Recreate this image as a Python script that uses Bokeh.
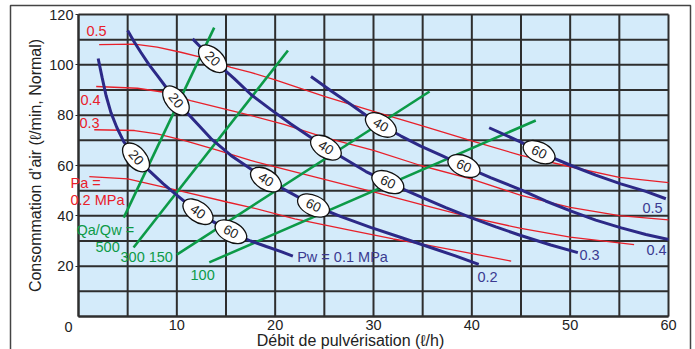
import math
import numpy as np
from bokeh.plotting import figure
from bokeh.models import Range1d, FixedTicker, Label
from bokeh.core.properties import value
from bokeh.embed import file_html
from bokeh.resources import INLINE

# ---------------------------------------------------------------- data
# axes
x_ticks = [10, 20, 30, 40, 50, 60]
y_ticks = [20, 40, 60, 80, 100, 120]
x_grid = list(range(0, 61, 5))
y_grid = list(range(0, 121, 10))

# air pressure curves, Pa (MPa): water flow (l/h) -> air consumption (l/min)
pa_05_x = [2.1, 5.7, 8.0, 10.4, 12.5, 15.5, 17.5, 20, 25, 30, 34.8, 39.9, 45, 50, 55, 60]
pa_05_y = [108, 108.2, 107, 105, 103, 99, 97, 94, 87.5, 81.5, 75.9, 69.9, 64, 59.5, 55.3, 53.2]
pa_04_x = [1.8, 6.0, 8.7, 11.4, 14.8, 17.5, 20.9, 25, 30, 34.8, 39.9, 45, 50, 55, 60]
pa_04_y = [91.4, 90.7, 89.1, 85.8, 82.5, 79.9, 76.3, 71.2, 66, 60, 54.7, 48.1, 43.4, 40.1, 38.4]
pa_03_x = [1.6, 5.7, 8.0, 10.8, 14.2, 17.5, 21, 25, 30, 34.8, 39.9, 45, 50, 56.5]
pa_03_y = [74.2, 73.9, 72.6, 69.9, 66, 62, 58.5, 54.5, 49.5, 44.6, 39.4, 35, 31.5, 28.6]
pa_02_x = [1.1, 5.0, 10.1, 15.2, 17.6, 22, 27.7, 32, 34.8, 37.9, 44]
pa_02_y = [55.6, 54.7, 50.1, 45.4, 43.3, 38.8, 34.2, 30.8, 28.9, 26.6, 22]

# water pressure curves, Pw (MPa)
pw_01_x = [2.0, 2.4, 2.8, 3.3, 3.9, 4.6, 5.4, 6.35, 7.4, 8.6, 9.9, 11.4, 13.0, 14.5, 16.0, 17.5, 19.1, 20.6, 21.8]
pw_01_y = [102.5, 95, 87.8, 81, 75.1, 69.5, 65.2, 61, 57.2, 52.8, 48.5, 43.7, 39.3, 35.8, 32.6, 30, 27.8, 25.8, 24]
pw_02_x = [5.0, 5.64, 6.35, 7.17, 8.08, 9.0, 9.91, 10.93, 12.15, 13.47, 15.5, 17.53, 19.06, 21.1, 23.9, 26.7, 29.7, 32.8, 35.8, 38.4, 40.7]
pw_02_y = [113.6, 109.3, 104.9, 100.1, 95.4, 90.6, 85.8, 81.4, 76.3, 70.7, 64.0, 58.6, 54.4, 50.1, 44.1, 39.7, 35.4, 31.4, 27.4, 24.0, 20.7]
pw_03_x = [11.61, 12.55, 13.64, 14.69, 15.81, 17.54, 19.57, 21.6, 23.64, 25.16, 27.19, 29.23, 31.46, 33.29, 34.81, 37.35, 39.9, 42.44, 44.98, 48.03, 50.78]
pw_03_y = [110.3, 106.5, 102.4, 98.5, 94.6, 88.2, 82.2, 76.5, 71.1, 67.1, 62.4, 57.6, 53.4, 50.1, 47.5, 43.3, 39.3, 35.6, 32.2, 28.4, 25.4]
pw_04_x = [23.64, 25.7, 27.7, 29.2, 30.75, 32.8, 34.8, 36.9, 39.2, 41.9, 45.0, 47.5, 50.1, 52.6, 55.2, 57.7, 60.0]
pw_04_y = [95.4, 89.6, 84.2, 80.1, 76.1, 71.7, 67.7, 64.0, 59.8, 55.2, 50.3, 45.9, 41.9, 38.3, 35.2, 32.6, 30.6]
pw_05_x = [41.76, 45.0, 46.84, 50.1, 52.6, 55.15, 57.7, 59.73]
pw_05_y = [75.0, 69.3, 65.3, 60.0, 56.2, 52.7, 49.7, 46.8]

# air / water ratio lines, Qa/Qw: [start, end]
qr_500_x, qr_500_y = [4.6, 13.8], [39.3, 114.8]
qr_300_x, qr_300_y = [5.6, 21.3], [27.4, 105.7]
qr_150_x, qr_150_y = [10.0, 35.7], [24.6, 89.4]
qr_100_x, qr_100_y = [13.3, 46.5], [21.5, 77.9]

# values tagged along each Pw curve (water flow where the tag sits)
tags_01_x, tags_01_t = [5.85, 12.15, 15.5], ["20", "40", "60"]
tags_02_x, tags_02_t = [9.91, 19.06, 23.9], ["20", "40", "60"]
tags_03_x, tags_03_t = [13.64, 25.16, 31.46], ["20", "40", "60"]
tags_04_x, tags_04_t = [30.75, 39.2], ["40", "60"]
tags_05_x, tags_05_t = [46.84], ["60"]

# ---------------------------------------------------------------- layout
# The frame covers the whole canvas; the chart area (0..60, 0..120)
# sits at pixels 78..668 x 14..316 and the axes are pinned to its edges.
W, H = 695, 349
AL, AR, AT, AB = 78, 668, 14, 316
X0, X1, Y0, Y1 = 0, 60, 0, 120
KX = (AR - AL) / (X1 - X0)
KY = (AB - AT) / (Y1 - Y0)
XS, XE = X0 - AL / KX, X1 + (W - AR) / KX
YS, YE = Y0 - (H - AB) / KY, Y1 + AT / KY


def dx(px):
    return XS + px / KX


def dy(py):
    return YS + (H - py) / KY


FONT = "Liberation Sans"
BG = "#d4ebfa"
GRID = "#2e2e2e"
RED = "#e8202a"
GREEN = "#0c9a47"
BLUE = "#2c2987"
BLUE_TXT = "#3b3a91"
INK = "#222222"

p = figure(width=W, height=H, x_range=Range1d(XS, XE), y_range=Range1d(YS, YE),
           output_backend="svg", toolbar_location=None,
           min_border_left=0, min_border_right=0, min_border_top=0, min_border_bottom=0,
           background_fill_color="white", border_fill_color="white",
           outline_line_color=None)
p.title.visible = False
p.grid.visible = False

# chart area: background and grid
p.quad(left=[X0], right=[X1], bottom=[Y0], top=[Y1], fill_color=BG, line_color=None)
p.segment(x0=x_grid, x1=x_grid, y0=[Y0] * len(x_grid), y1=[Y1] * len(x_grid),
          line_color=GRID, line_width=2)
p.segment(x0=[X0] * len(y_grid), x1=[X1] * len(y_grid), y0=y_grid, y1=y_grid,
          line_color=GRID, line_width=2)

p.xaxis.ticker = FixedTicker(ticks=x_ticks)
p.yaxis.ticker = FixedTicker(ticks=y_ticks)
p.xaxis.fixed_location = Y0
p.yaxis.fixed_location = X0
p.xaxis.bounds = (X0, X1)
p.yaxis.bounds = (Y0, Y1)
for ax in (p.xaxis, p.yaxis):
    ax.axis_line_color = GRID
    ax.axis_line_width = 2
    ax.major_tick_line_color = GRID
    ax.minor_tick_line_color = None
    ax.major_tick_in = 0
    ax.major_label_text_font = FONT
    ax.major_label_text_font_size = "14.5px"
    ax.major_label_text_color = INK
p.xaxis.major_tick_out = 0
p.xaxis.major_label_standoff = 3
p.yaxis.major_tick_out = 3
p.yaxis.major_label_standoff = 2

# Pa curves
for xs, ys in ((pa_05_x, pa_05_y), (pa_04_x, pa_04_y), (pa_03_x, pa_03_y), (pa_02_x, pa_02_y)):
    p.line(xs, ys, line_color=RED, line_width=1.3)

# Qa/Qw lines
for xs, ys in ((qr_500_x, qr_500_y), (qr_300_x, qr_300_y), (qr_150_x, qr_150_y), (qr_100_x, qr_100_y)):
    p.line(xs, ys, line_color=GREEN, line_width=2.6)

# Pw curves with their oval tags
pw_sets = [
    (pw_01_x, pw_01_y, tags_01_x, tags_01_t),
    (pw_02_x, pw_02_y, tags_02_x, tags_02_t),
    (pw_03_x, pw_03_y, tags_03_x, tags_03_t),
    (pw_04_x, pw_04_y, tags_04_x, tags_04_t),
    (pw_05_x, pw_05_y, tags_05_x, tags_05_t),
]
tx, ty, tt, ta = [], [], [], []
for xs, ys, mx, mt in pw_sets:
    p.line(xs, ys, line_color=BLUE, line_width=3)
    for x, t in zip(mx, mt):
        y = float(np.interp(x, xs, ys))
        h = 1.2
        slope = (np.interp(x + h, xs, ys) - np.interp(x - h, xs, ys)) / (2 * h)
        tx.append(x)
        ty.append(y)
        tt.append(t)
        ta.append(math.atan(slope * KY / KX))

p.ellipse(x=tx, y=ty, width=34, height=20, angle=ta,
          width_units="screen", height_units="screen",
          fill_color="white", line_color="#111111", line_width=1.3)
p.text(x=tx, y=ty, text=tt, angle=ta, text_font=value(FONT), text_font_size="13.5px",
       text_color=INK, text_align="center", text_baseline="middle")


def note(text, left_px, mid_py, color, size="14.5px", align="left", angle=0.0):
    p.add_layout(Label(x=dx(left_px), y=dy(mid_py), text=text, text_color=color,
                       text_font=FONT, text_font_size=size, text_align=align,
                       text_baseline="middle", angle=angle))


note("0.5", 86, 30, RED)
note("0.4", 80, 99, RED)
note("0.3", 79, 122, RED)
note("Pa =", 70, 182, RED)
note("0.2 MPa", 70, 199, RED)

note("Qa/Qw =", 76, 229.5, GREEN)
note("500", 95, 246.7, GREEN)
note("300 150", 120, 256.7, GREEN)
note("100", 190, 274, GREEN)

note("Pw = 0.1 MPa", 296.7, 256, BLUE_TXT)
note("0.2", 477, 276, BLUE_TXT)
note("0.3", 579, 254, BLUE_TXT)
note("0.4", 646, 249, BLUE_TXT)
note("0.5", 642, 207, BLUE_TXT)

# origin, axis titles
note("0", 68, 326, INK, align="center")
note("Débit de pulvérisation (\u2113/h)", 350, 340, INK, size="16px", align="center")
note("Consommation d\u2019air (\u2113/min, Normal)", 35, 165, INK, size="16px",
     align="center", angle=math.pi / 2)

# surrounding panel border (open at the bottom edge of the page)
bx = [dx(10), dx(10), dx(690)]
by = [dy(360), dy(5), dy(5)]
p.line(x=bx + [dx(690)], y=by + [dy(360)], line_color="#444444", line_width=1.5)

open("out.html", "w").write(file_html(p, INLINE))
